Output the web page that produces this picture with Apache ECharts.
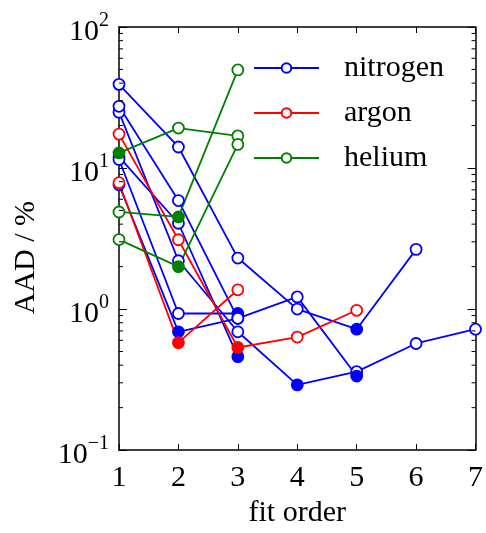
<!DOCTYPE html>
<html>
<head>
<meta charset="utf-8">
<script src="https://cdn.jsdelivr.net/npm/echarts@6/dist/echarts.min.js"></script>
<style>html,body{margin:0;padding:0;background:#fff}#c{width:486px;height:533px}</style>
</head>
<body>
<div id="c"></div>
<script>
// ---- data (fit order -> AAD %) ----
const fitOrders = [1, 2, 3, 4, 5, 6, 7];
const yTicks = [0.1, 1, 10, 100];
const minorTickValues = [0.2,0.3,0.4,0.5,0.6,0.7,0.8,0.9,2,3,4,5,6,7,8,9,20,30,40,50,60,70,80,90];

const nitrogen1 = [39.2, 14.1, 2.3, 1.0, 0.72, 2.65];
const nitrogen2 = [24.9, 2.2, 0.69, 0.29, 0.36, 0.57, 0.72];
const nitrogen3 = [27.4, 5.88, 0.86, 1.22, 0.335];
const nitrogen4 = [12.0, 4.06, 0.46];
const nitrogen5 = [11.5, 0.93, 0.93];
const nitrogen6 = [7.6, 0.69, 0.86];
const nitrogenBest = [5, 4, 5, 3, 3, 2];   // fit order of the filled marker

const argon1 = [17.4, 3.1, 0.534, 0.633, 0.98];
const argon2 = [7.87, 0.578, 1.37];
const argonBest = [3, 2];

const helium1 = [12.8, 19.2, 16.9];
const helium2 = [4.88, 4.5, 49.6];
const helium3 = [3.11, 2.0, 14.7];
const heliumBest = [1, 2, 2];

const gases = [
  { name: 'nitrogen', color: '#0000ff', lines: [nitrogen1, nitrogen2, nitrogen3, nitrogen4, nitrogen5, nitrogen6], best: nitrogenBest },
  { name: 'argon', color: '#ff0000', lines: [argon1, argon2], best: argonBest },
  { name: 'helium', color: '#008000', lines: [helium1, helium2, helium3], best: heliumBest }
];

const FONT = 'Liberation Serif';
const series = [];
gases.forEach(g => {
  g.lines.forEach((vals, li) => {
    series.push({
      name: g.name,
      type: 'line',
      symbol: 'circle',
      symbolSize: 11,
      lineStyle: { color: g.color, width: 1.8 },
      itemStyle: { color: '#ffffff', borderColor: g.color, borderWidth: 1.8 },
      emphasis: { disabled: true },
      animation: false,
      z: 3,
      data: vals.map((v, i) => {
        const x = fitOrders[i];
        if (x === g.best[li]) {
          return { value: [x, v], itemStyle: { color: g.color, borderColor: g.color } };
        }
        return { value: [x, v] };
      })
    });
  });
});

// minor ticks on the log axis (left and right frame)
series.push({
  type: 'custom',
  silent: true,
  animation: false,
  clip: false,
  z: 5,
  data: minorTickValues,
  renderItem: function (params, api) {
    const v = api.value(0);
    const l = api.coord([fitOrders[0], v]);
    const r = api.coord([fitOrders[fitOrders.length - 1], v]);
    return {
      type: 'group',
      children: [
        { type: 'line', shape: { x1: l[0], y1: l[1], x2: l[0] + 4, y2: l[1] }, style: { stroke: '#000', lineWidth: 1 } },
        { type: 'line', shape: { x1: r[0], y1: r[1], x2: r[0] - 4, y2: r[1] }, style: { stroke: '#000', lineWidth: 1 } }
      ]
    };
  },
  encode: { y: 0 }
});

function yFmt(v) {
  const e = Math.round(Math.log10(v));
  return '{b|10}{s|' + (e < 0 ? '\u2212' + (-e) : e) + '}';
}

const chart = echarts.init(document.getElementById('c'), null, { renderer: 'canvas' });
chart.setOption({
  backgroundColor: '#ffffff',
  animation: false,
  grid: { left: 119, right: 7, top: 27, bottom: 72, containLabel: false },
  legend: {
    data: ['nitrogen', 'argon', 'helium'],
    orient: 'vertical',
    left: 248,
    top: 48,
    itemWidth: 65,
    itemHeight: 12,
    itemGap: 15,
    textStyle: { fontFamily: FONT, fontSize: 30, color: '#000', padding: [0, 0, 0, 20], lineHeight: 30 },
    selectedMode: false
  },
  xAxis: [{
    type: 'value', min: 1, max: 7, interval: 1,
    name: 'fit order', nameLocation: 'middle', nameGap: 47,
    nameTextStyle: { fontFamily: FONT, fontSize: 30, color: '#000' },
    axisLine: { onZero: false, lineStyle: { color: '#000', width: 1.5 } },
    axisTick: { inside: true, length: 6, lineStyle: { color: '#000', width: 1 } },
    axisLabel: { fontFamily: FONT, fontSize: 30, color: '#000', margin: 13 },
    splitLine: { show: false }
  }, {
    type: 'value', min: 1, max: 7, interval: 1, position: 'top',
    axisLine: { onZero: false, lineStyle: { color: '#000', width: 1.5 } },
    axisTick: { inside: true, length: 6, lineStyle: { color: '#000', width: 1 } },
    axisLabel: { show: false },
    splitLine: { show: false }
  }],
  yAxis: [{
    type: 'log', logBase: 10, min: 0.1, max: 100,
    name: 'AAD / %', nameLocation: 'middle', nameGap: 78,
    nameTextStyle: { fontFamily: FONT, fontSize: 30, color: '#000', padding: [0, 38, 0, 0] },
    axisLine: { onZero: false, lineStyle: { color: '#000', width: 1.5 } },
    axisTick: { inside: true, length: 8, lineStyle: { color: '#000', width: 1 } },
    axisLabel: {
      formatter: yFmt, margin: 10,
      rich: {
        b: { fontFamily: FONT, fontSize: 30, color: '#000', padding: [10, 0, 0, 0] },
        s: { fontFamily: FONT, fontSize: 20, color: '#000', padding: [0, 0, 12, 0] }
      }
    },
    splitLine: { show: false },
    minorTick: { show: false }
  }, {
    type: 'log', logBase: 10, min: 0.1, max: 100, position: 'right',
    axisLine: { onZero: false, lineStyle: { color: '#000', width: 1.5 } },
    axisTick: { inside: true, length: 8, lineStyle: { color: '#000', width: 1 } },
    axisLabel: { show: false },
    splitLine: { show: false }
  }],
  series: series
});
</script>
</body>
</html>
